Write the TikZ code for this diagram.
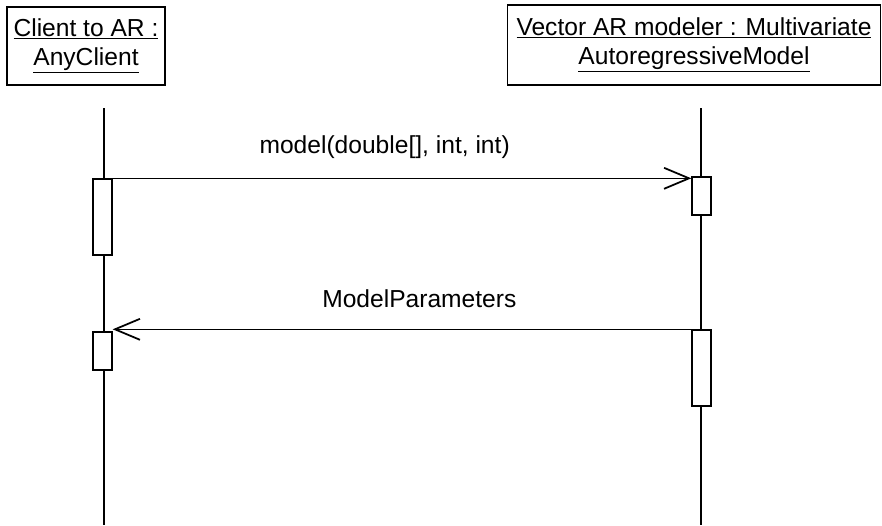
\documentclass[tikz,border=0pt]{standalone}
\usepackage{fontspec}
\setmainfont{Liberation Sans}
\usetikzlibrary{arrows.meta}

\tikzset{
  headbox/.style={draw, line width=0.6pt, align=center, inner sep=0pt},
  actbox/.style={draw, fill=white, line width=0.8pt, minimum width=0.38cm, inner sep=0pt},
  msg/.style={line width=0.6pt, -{Straight Barb[length=0.5cm, width=0.42cm, line width=1pt]}},
}

\begin{document}
\begin{tikzpicture}[x=0.02cm, y=-0.02cm, line width=0.8pt, font=\fontsize{14}{16.5}\selectfont]
    \useasboundingbox (0,0) rectangle (882,525);
    % objects
    \node[headbox, minimum width=3.16cm, minimum height=1.56cm] (client) at (86,46)
        {\underline{Client to AR :}\\\underline{AnyClient}};
    \node[headbox, minimum width=7.46cm, minimum height=1.6cm] (modeler) at (694,45)
        {\underline{Vector AR modeler : Multivariate}\\\underline{AutoregressiveModel}};
    % lifelines
    \coordinate (clientTop) at (104,108);
    \coordinate (clientEnd) at (104,525);
    \coordinate (modelerTop) at (701,108);
    \coordinate (modelerEnd) at (701,525);
    \draw (clientTop) -- (clientEnd);
    \draw (modelerTop) -- (modelerEnd);
    % activations
    \node[actbox, minimum height=1.52cm] (clientAct1) at (102.5,217) {};
    \node[actbox, minimum height=0.76cm] (modelerAct1) at (701.5,196) {};
    \node[actbox, minimum height=0.76cm] (clientAct2) at (102.5,351) {};
    \node[actbox, minimum height=1.52cm] (modelerAct2) at (701.5,368) {};
    % messages
    \draw[msg] (clientAct1.north east) -- (clientAct1.north east -| modelerAct1.west)
        node[pos=0.47, above=0.38cm, inner sep=0pt] {model(double[], int, int)};
    \draw[msg] (modelerAct2.north west) -- (modelerAct2.north west -| clientAct2.east)
        node[pos=0.47, above=0.42cm, inner sep=0pt] {ModelParameters};
\end{tikzpicture}
\end{document}
